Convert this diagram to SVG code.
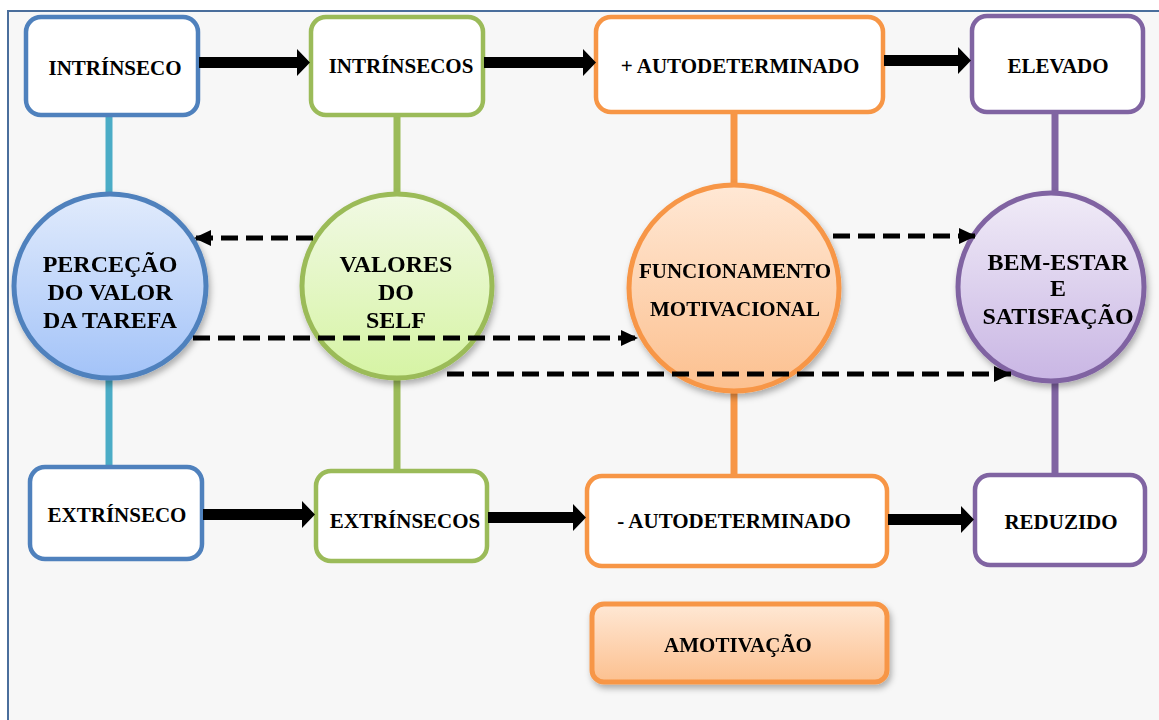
<svg xmlns="http://www.w3.org/2000/svg" width="1159" height="720" viewBox="0 0 1159 720">
  <style>
    .lbl { font-family: "Liberation Serif", "Times New Roman", serif; font-weight: bold; fill: #000; text-anchor: middle; }
    .box-t { font-size: 21px; }
    .circ-t { font-size: 24px; }
    .box { fill: #ffffff; stroke-width: 4.5; }
    .blue { stroke: #4f81bd; }
    .green { stroke: #9bbb59; }
    .orange { stroke: #f79646; }
    .purple { stroke: #8064a2; }
    .link { stroke-width: 7; fill: none; }
    .arrow { fill: #000; }
    .dash { stroke: #000; stroke-width: 5; stroke-dasharray: 17 8; fill: none; marker-end: url(#head); }
  </style>
  <defs>
    <linearGradient id="gBlue" x1="0" y1="0" x2="0" y2="1">
      <stop offset="0" stop-color="#e1ebfc"/>
      <stop offset="1" stop-color="#a3c3f8"/>
    </linearGradient>
    <linearGradient id="gGreen" x1="0" y1="0" x2="0" y2="1">
      <stop offset="0" stop-color="#f1f9e4"/>
      <stop offset="1" stop-color="#d6f4a4"/>
    </linearGradient>
    <linearGradient id="gOrange" x1="0" y1="0" x2="0" y2="1">
      <stop offset="0" stop-color="#ffe8d5"/>
      <stop offset="1" stop-color="#fcc08f"/>
    </linearGradient>
    <linearGradient id="gPurple" x1="0" y1="0" x2="0" y2="1">
      <stop offset="0" stop-color="#f0ebf7"/>
      <stop offset="1" stop-color="#c9b6e4"/>
    </linearGradient>
    <filter id="shadow" x="-20%" y="-20%" width="140%" height="150%">
      <feDropShadow dx="2" dy="4" stdDeviation="3" flood-color="#000" flood-opacity="0.3"/>
    </filter>
    <marker id="head" markerUnits="userSpaceOnUse" markerWidth="18" markerHeight="18" refX="17" refY="8" orient="auto">
      <path d="M0,0 L17,8 L0,16 Z" fill="#000"/>
    </marker>
  </defs>

  <!-- frame -->
  <rect x="8" y="11" width="1160" height="720" fill="#f7f7f7" stroke="#4a6e9c" stroke-width="2"/>

  <!-- vertical links between rows -->
  <g id="links">
    <line class="link" x1="109" y1="117" x2="109" y2="194" stroke="#4bacc6"/>
    <line class="link" x1="109" y1="378" x2="109" y2="467" stroke="#4bacc6"/>
    <line class="link" x1="397" y1="117" x2="397" y2="194" stroke="#9bbb59"/>
    <line class="link" x1="397" y1="380" x2="397" y2="471" stroke="#9bbb59"/>
    <line class="link" x1="734" y1="113" x2="734" y2="186" stroke="#f79646"/>
    <line class="link" x1="734" y1="390" x2="734" y2="476" stroke="#f79646"/>
    <line class="link" x1="1055" y1="113" x2="1055" y2="193" stroke="#8064a2"/>
    <line class="link" x1="1055" y1="380" x2="1055" y2="475" stroke="#8064a2"/>
  </g>

  <!-- top row -->
  <g id="intrinseco">
    <rect class="box blue" x="26" y="17" width="172" height="98" rx="15"/>
    <text class="lbl box-t" x="115" y="75">INTRÍNSECO</text>
  </g>
  <g id="intrinsecos">
    <rect class="box green" x="311" y="17" width="172" height="98" rx="15"/>
    <text class="lbl box-t" x="401" y="73">INTRÍNSECOS</text>
  </g>
  <g id="mais-autodeterminado">
    <rect class="box orange" x="596" y="17" width="287" height="95" rx="15"/>
    <text class="lbl box-t" x="740" y="73">+ AUTODETERMINADO</text>
  </g>
  <g id="elevado">
    <rect class="box purple" x="972" y="16" width="171" height="96" rx="15"/>
    <text class="lbl box-t" x="1058" y="73">ELEVADO</text>
  </g>

  <!-- middle row -->
  <g id="percecao" filter="url(#shadow)">
    <ellipse cx="110" cy="286" rx="96" ry="92" fill="url(#gBlue)" stroke="#4f81bd" stroke-width="5"/>
    <text class="lbl circ-t" x="110" y="272">PERCEÇÃO</text>
    <text class="lbl circ-t" x="110" y="300">DO VALOR</text>
    <text class="lbl circ-t" x="110" y="328">DA TAREFA</text>
  </g>
  <g id="valores" filter="url(#shadow)">
    <ellipse cx="397" cy="286" rx="95" ry="92" fill="url(#gGreen)" stroke="#9bbb59" stroke-width="5"/>
    <text class="lbl circ-t" x="396" y="272">VALORES</text>
    <text class="lbl circ-t" x="396" y="300">DO</text>
    <text class="lbl circ-t" x="396" y="328">SELF</text>
  </g>
  <g id="funcionamento" filter="url(#shadow)">
    <ellipse cx="734" cy="288" rx="105" ry="103" fill="url(#gOrange)" stroke="#f79646" stroke-width="5"/>
    <text class="lbl box-t" x="735" y="278">FUNCIONAMENTO</text>
    <text class="lbl box-t" x="735" y="316">MOTIVACIONAL</text>
  </g>
  <g id="bem-estar" filter="url(#shadow)">
    <ellipse cx="1051" cy="287" rx="93" ry="94" fill="url(#gPurple)" stroke="#8064a2" stroke-width="5"/>
    <text class="lbl circ-t" x="1058" y="270">BEM-ESTAR</text>
    <text class="lbl circ-t" x="1058" y="296">E</text>
    <text class="lbl circ-t" x="1058" y="324">SATISFAÇÃO</text>
  </g>

  <!-- bottom row -->
  <g id="extrinseco">
    <rect class="box blue" x="30" y="467" width="172" height="92" rx="15"/>
    <text class="lbl box-t" x="117" y="522">EXTRÍNSECO</text>
  </g>
  <g id="extrinsecos">
    <rect class="box green" x="316" y="471" width="171" height="90" rx="15"/>
    <text class="lbl box-t" x="405" y="528">EXTRÍNSECOS</text>
  </g>
  <g id="menos-autodeterminado">
    <rect class="box orange" x="587" y="476" width="300" height="90" rx="15"/>
    <text class="lbl box-t" x="734" y="528">- AUTODETERMINADO</text>
  </g>
  <g id="reduzido">
    <rect class="box purple" x="975" y="475" width="170" height="90" rx="15"/>
    <text class="lbl box-t" x="1061" y="529">REDUZIDO</text>
  </g>

  <g id="amotivacao" filter="url(#shadow)">
    <rect x="592" y="604" width="295" height="78" rx="12" fill="url(#gOrange)" stroke="#f79646" stroke-width="5"/>
    <text class="lbl box-t" x="738" y="652">AMOTIVAÇÃO</text>
  </g>

  <!-- connectors -->
  <g id="connectors">
    <!-- solid block arrows, top row -->
    <path class="arrow" d="M199,57 H297 V49 L310,62.5 L297,76 V68 H199 Z"/>
    <path class="arrow" d="M484,57 H583 V49 L596,62.5 L583,76 V68 H484 Z"/>
    <path class="arrow" d="M884,55 H958 V47 L971,60.5 L958,74 V66 H884 Z"/>
    <!-- solid block arrows, bottom row -->
    <path class="arrow" d="M203,509 H302 V501 L315,514.5 L302,528 V520 H203 Z"/>
    <path class="arrow" d="M488,512 H573 V504 L586,517.5 L573,531 V523 H488 Z"/>
    <path class="arrow" d="M888,514 H961 V506 L974,519.5 L961,533 V525 H888 Z"/>
    <!-- dashed influence arrows -->
    <line class="dash" x1="313" y1="238" x2="194" y2="238"/>
    <line class="dash" x1="193" y1="338" x2="638" y2="338"/>
    <line class="dash" x1="833" y1="236" x2="976" y2="236"/>
    <line class="dash" x1="447" y1="374" x2="1011" y2="374"/>
  </g>
</svg>
